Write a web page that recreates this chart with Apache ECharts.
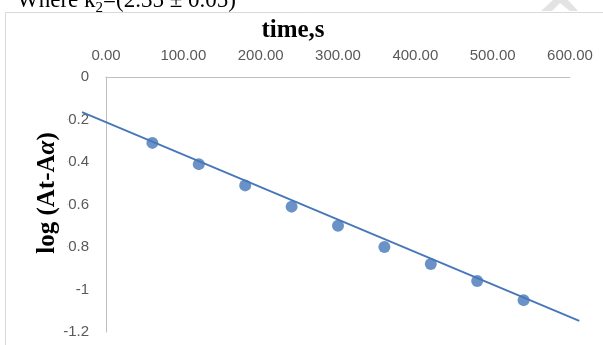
<!DOCTYPE html>
<html>
<head>
<meta charset="utf-8">
<script src="https://cdn.jsdelivr.net/npm/echarts@6/dist/echarts.min.js"></script>
<style>html,body{margin:0;padding:0;background:#fff;}#c{width:603px;height:345px;}</style>
</head>
<body>
<div id="c"></div>
<script>
// time (s) and log(At - A∞)
const timeValues = [60, 120, 180, 240, 300, 360, 420, 480, 540];
const logValues = [-0.31, -0.41, -0.51, -0.61, -0.70, -0.80, -0.88, -0.96, -1.05];
// linear trendline end points (it is extended beyond the axis range)
const trendX = [-31, 612];
const trendY = [-0.165, -1.148];
const xTicks = [0, 100, 200, 300, 400, 500, 600];
const yTicks = [0, -0.2, -0.4, -0.6, -0.8, -1, -1.2];

const W = 603, H = 345;
const G = {left: 106, top: 77, right: 33, bottom: 13};
const xMin = xTicks[0], xMax = xTicks[xTicks.length - 1];
const yMin = yTicks[yTicks.length - 1], yMax = yTicks[0];
// second (hidden) grid whose x scale is identical but spans the trendline's wider range
const pxPerUnit = (W - G.left - G.right) / (xMax - xMin);
const G2 = {
  left: G.left + (trendX[0] - xMin) * pxPerUnit,
  right: G.right - (trendX[1] - xMax) * pxPerUnit,
  top: G.top, bottom: G.bottom
};

const chart = echarts.init(document.getElementById('c'), null, {renderer: 'canvas'});
const blue = '#4677b8';
const labelColor = '#595959';
chart.setOption({
  animation: false,
  backgroundColor: '#fff',
  grid: [
    Object.assign({containLabel: false}, G),
    Object.assign({containLabel: false, show: false}, G2)
  ],
  xAxis: [{
    type: 'value', position: 'top', gridIndex: 0,
    min: xMin, max: xMax, interval: 100,
    axisLine: {show: true, onZero: false, lineStyle: {color: '#bfbfbf', width: 1}},
    axisTick: {show: false},
    splitLine: {show: false},
    axisLabel: {color: labelColor, fontFamily: 'Liberation Sans', fontSize: 15, margin: 14,
      formatter: v => v.toFixed(2)}
  }, {
    type: 'value', gridIndex: 1, show: false, min: trendX[0], max: trendX[1],
    splitLine: {show: false}
  }],
  yAxis: [{
    type: 'value', gridIndex: 0,
    min: yMin, max: yMax, interval: 0.2,
    axisLine: {show: true, onZero: false, lineStyle: {color: '#bfbfbf', width: 1}},
    axisTick: {show: false},
    splitLine: {show: false},
    axisLabel: {color: labelColor, fontFamily: 'Liberation Sans', fontSize: 15, margin: 17,
      formatter: v => (Math.abs(v) < 1e-9 ? '0' : String(+v.toFixed(1)))}
  }, {
    type: 'value', gridIndex: 1, show: false, min: yMin, max: yMax,
    splitLine: {show: false}
  }],
  series: [
    {
      type: 'line', xAxisIndex: 1, yAxisIndex: 1, clip: false, symbol: 'none', silent: true,
      data: trendX.map((x, i) => [x, trendY[i]]),
      lineStyle: {color: blue, width: 1.8}, z: 2
    },
    {
      type: 'scatter', xAxisIndex: 0, yAxisIndex: 0, symbol: 'circle', symbolSize: 12,
      data: timeValues.map((x, i) => [x, logValues[i]]),
      itemStyle: {color: blue}, z: 3
    }
  ],
  graphic: [
    {type: 'rect', z: 0, silent: true, shape: {x: 5.5, y: 12.5, width: 640, height: 400},
      style: {fill: 'none', stroke: '#d9d9d9', lineWidth: 1}},
    {type: 'polygon', z: 0, silent: true, shape: {points: [[541, 11], [553, 0], [568, 0], [578, 11], [570, 11], [560, 3], [552, 11]]},
      style: {fill: '#e3e3e3'}},
    {type: 'text', z: 100, silent: true, x: 17, y: 12,
      style: {text: '{a|Where k}{b|2}{a|=(2.35 ± 0.05)}', verticalAlign: 'bottom', align: 'left',
        rich: {a: {fontFamily: 'Liberation Serif', fontSize: 23, fill: '#000', lineHeight: 22, verticalAlign: 'bottom'},
               b: {fontFamily: 'Liberation Serif', fontSize: 15, fill: '#000', lineHeight: 17, verticalAlign: 'bottom', padding: [0,0,-4,0]}}}},
    {type: 'text', z: 100, silent: true, x: 293, y: 31,
      style: {text: 'time,s', font: 'bold 25px "Liberation Serif"', fill: '#000', align: 'center', verticalAlign: 'middle'}},
    {type: 'rect', z: 99, silent: true, shape: {x: 30, y: 110, width: 37.5, height: 156},
      style: {fill: '#fff'}},
    {type: 'text', z: 100, silent: true, x: 48, y: 193, rotation: Math.PI / 2,
      style: {text: '{a|log (At-A}{i|α}{a|)}', align: 'center', verticalAlign: 'middle',
        rich: {a: {font: 'bold 25px "Liberation Serif"', fill: '#000'},
               i: {font: 'italic bold 25px "Liberation Serif"', fill: '#000'}}}}
  ]
});
</script>
</body>
</html>
